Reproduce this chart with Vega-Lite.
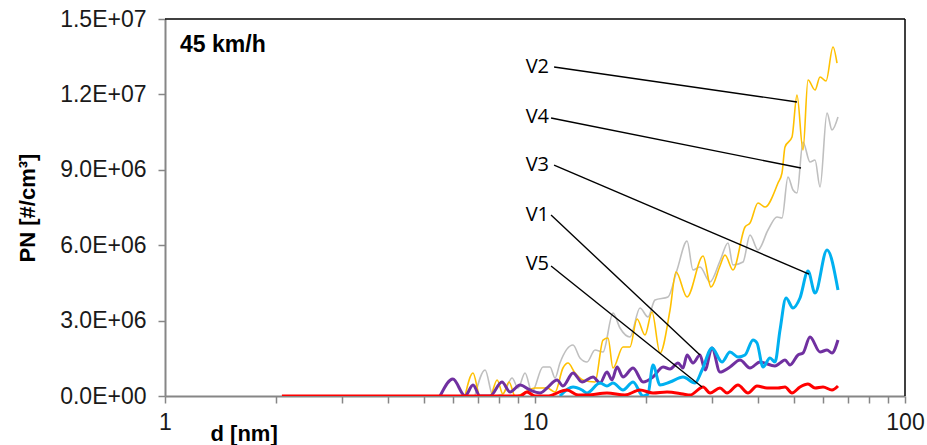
{
"$schema": "https://vega.github.io/schema/vega-lite/v6.json",
"width": 740,
"height": 377,
"autosize": "none",
"padding": {"left": 165, "top": 19, "right": 22, "bottom": 49},
"background": "white",
"config": {"view": {"stroke": null}, "font": "Liberation Sans"},
"datasets": {
"pn": [
{"s":"V4","d":6.88,"v":0},{"s":"V4","d":7.33,"v":1035000},{"s":"V4","d":7.70,"v":0},{"s":"V4","d":8.19,"v":80000},{"s":"V4","d":8.67,"v":716000},{"s":"V4","d":9.00,"v":318000},{"s":"V4","d":9.40,"v":915000},{"s":"V4","d":9.81,"v":159000},{"s":"V4","d":10.51,"v":1154000},{"s":"V4","d":10.98,"v":1154000},{"s":"V4","d":11.33,"v":716000},{"s":"V4","d":11.68,"v":1313000},{"s":"V4","d":12.67,"v":2029000},{"s":"V4","d":13.23,"v":1512000},{"s":"V4","d":13.82,"v":1353000},{"s":"V4","d":14.53,"v":1830000},{"s":"V4","d":15.27,"v":1751000},{"s":"V4","d":16.25,"v":3302000},{"s":"V4","d":16.97,"v":2706000},{"s":"V4","d":18.06,"v":2348000},{"s":"V4","d":19.22,"v":3501000},{"s":"V4","d":20.20,"v":3143000},{"s":"V4","d":21.10,"v":3820000},{"s":"V4","d":22.88,"v":3939000},{"s":"V4","d":24.20,"v":5013000},{"s":"V4","d":25.76,"v":6167000},{"s":"V4","d":26.73,"v":5013000},{"s":"V4","d":27.92,"v":5133000},{"s":"V4","d":29.72,"v":4536000},{"s":"V4","d":31.62,"v":5371000},{"s":"V4","d":33.24,"v":6088000},{"s":"V4","d":34.28,"v":5212000},{"s":"V4","d":36.49,"v":5331000},{"s":"V4","d":38.11,"v":6406000},{"s":"V4","d":40.06,"v":5809000},{"s":"V4","d":42.63,"v":6605000},{"s":"V4","d":45.09,"v":7122000},{"s":"V4","d":46.51,"v":7082000},{"s":"V4","d":48.28,"v":8714000},{"s":"V4","d":49.81,"v":8196000},{"s":"V4","d":51.06,"v":8077000},{"s":"V4","d":53.00,"v":10106000},{"s":"V4","d":55.37,"v":9310000},{"s":"V4","d":57.13,"v":9390000},{"s":"V4","d":58.93,"v":8316000},{"s":"V4","d":61.55,"v":11260000},{"s":"V4","d":63.49,"v":10584000},{"s":"V4","d":65.90,"v":11101000},
{"s":"V2","d":6.47,"v":0},{"s":"V2","d":6.80,"v":915000},{"s":"V2","d":7.10,"v":0},{"s":"V2","d":7.56,"v":0},{"s":"V2","d":7.90,"v":637000},{"s":"V2","d":8.19,"v":80000},{"s":"V2","d":8.51,"v":557000},{"s":"V2","d":8.83,"v":0},{"s":"V2","d":9.22,"v":80000},{"s":"V2","d":10.00,"v":318000},{"s":"V2","d":10.78,"v":318000},{"s":"V2","d":11.33,"v":159000},{"s":"V2","d":11.90,"v":1114000},{"s":"V2","d":12.28,"v":1313000},{"s":"V2","d":12.83,"v":915000},{"s":"V2","d":13.48,"v":637000},{"s":"V2","d":14.53,"v":557000},{"s":"V2","d":15.27,"v":2228000},{"s":"V2","d":15.75,"v":2308000},{"s":"V2","d":16.25,"v":1114000},{"s":"V2","d":17.29,"v":1950000},{"s":"V2","d":18.06,"v":1950000},{"s":"V2","d":18.87,"v":3064000},{"s":"V2","d":19.83,"v":2427000},{"s":"V2","d":20.71,"v":3342000},{"s":"V2","d":21.77,"v":1711000},{"s":"V2","d":23.17,"v":3422000},{"s":"V2","d":24.05,"v":4934000},{"s":"V2","d":25.76,"v":3939000},{"s":"V2","d":28.46,"v":5570000},{"s":"V2","d":29.90,"v":4337000},{"s":"V2","d":31.62,"v":5172000},{"s":"V2","d":32.62,"v":5610000},{"s":"V2","d":34.28,"v":5013000},{"s":"V2","d":36.95,"v":6724000},{"s":"V2","d":38.11,"v":6883000},{"s":"V2","d":40.06,"v":7679000},{"s":"V2","d":41.85,"v":7520000},{"s":"V2","d":45.37,"v":8475000},{"s":"V2","d":46.51,"v":8873000},{"s":"V2","d":47.39,"v":9907000},{"s":"V2","d":49.50,"v":10305000},{"s":"V2","d":51.06,"v":11976000},{"s":"V2","d":53.00,"v":9788000},{"s":"V2","d":54.68,"v":12573000},{"s":"V2","d":57.13,"v":12175000},{"s":"V2","d":58.93,"v":12692000},{"s":"V2","d":61.17,"v":12533000},{"s":"V2","d":63.89,"v":13886000},{"s":"V2","d":65.49,"v":13249000},
{"s":"V1","d":5.54,"v":0},{"s":"V1","d":6.00,"v":676000},{"s":"V1","d":6.47,"v":0},{"s":"V1","d":6.80,"v":438000},{"s":"V1","d":7.10,"v":0},{"s":"V1","d":7.56,"v":0},{"s":"V1","d":8.14,"v":557000},{"s":"V1","d":8.56,"v":159000},{"s":"V1","d":9.11,"v":438000},{"s":"V1","d":9.69,"v":239000},{"s":"V1","d":10.32,"v":119000},{"s":"V1","d":10.78,"v":318000},{"s":"V1","d":11.47,"v":637000},{"s":"V1","d":11.90,"v":398000},{"s":"V1","d":12.67,"v":915000},{"s":"V1","d":13.40,"v":557000},{"s":"V1","d":14.35,"v":756000},{"s":"V1","d":14.99,"v":517000},{"s":"V1","d":15.65,"v":955000},{"s":"V1","d":16.15,"v":637000},{"s":"V1","d":16.66,"v":1154000},{"s":"V1","d":17.29,"v":756000},{"s":"V1","d":18.41,"v":1114000},{"s":"V1","d":19.59,"v":557000},{"s":"V1","d":20.84,"v":756000},{"s":"V1","d":22.18,"v":1154000},{"s":"V1","d":23.17,"v":1074000},{"s":"V1","d":24.35,"v":1313000},{"s":"V1","d":25.12,"v":1114000},{"s":"V1","d":25.76,"v":1631000},{"s":"V1","d":26.73,"v":1313000},{"s":"V1","d":27.92,"v":1631000},{"s":"V1","d":28.81,"v":1035000},{"s":"V1","d":30.09,"v":1910000},{"s":"V1","d":31.62,"v":955000},{"s":"V1","d":33.65,"v":1154000},{"s":"V1","d":35.82,"v":1432000},{"s":"V1","d":38.11,"v":1114000},{"s":"V1","d":40.56,"v":1353000},{"s":"V1","d":44.53,"v":1194000},{"s":"V1","d":45.94,"v":1313000},{"s":"V1","d":47.39,"v":1432000},{"s":"V1","d":48.89,"v":1233000},{"s":"V1","d":51.38,"v":1631000},{"s":"V1","d":53.00,"v":1711000},{"s":"V1","d":55.37,"v":2348000},{"s":"V1","d":58.93,"v":1751000},{"s":"V1","d":61.55,"v":1830000},{"s":"V1","d":63.49,"v":1711000},{"s":"V1","d":65.90,"v":2228000},
{"s":"V3","d":11.68,"v":0},{"s":"V3","d":12.67,"v":358000},{"s":"V3","d":13.40,"v":239000},{"s":"V3","d":13.82,"v":119000},{"s":"V3","d":14.99,"v":517000},{"s":"V3","d":15.65,"v":398000},{"s":"V3","d":16.25,"v":517000},{"s":"V3","d":17.29,"v":239000},{"s":"V3","d":18.41,"v":557000},{"s":"V3","d":19.59,"v":0},{"s":"V3","d":20.20,"v":80000},{"s":"V3","d":20.84,"v":1233000},{"s":"V3","d":21.77,"v":438000},{"s":"V3","d":23.17,"v":557000},{"s":"V3","d":25.12,"v":756000},{"s":"V3","d":27.07,"v":517000},{"s":"V3","d":28.28,"v":1035000},{"s":"V3","d":30.09,"v":1910000},{"s":"V3","d":32.02,"v":1353000},{"s":"V3","d":33.65,"v":1751000},{"s":"V3","d":35.37,"v":1552000},{"s":"V3","d":36.95,"v":1631000},{"s":"V3","d":38.83,"v":2228000},{"s":"V3","d":39.81,"v":2109000},{"s":"V3","d":41.33,"v":1154000},{"s":"V3","d":43.16,"v":1512000},{"s":"V3","d":44.53,"v":1353000},{"s":"V3","d":45.94,"v":2626000},{"s":"V3","d":47.69,"v":3899000},{"s":"V3","d":49.81,"v":3501000},{"s":"V3","d":52.02,"v":3899000},{"s":"V3","d":54.68,"v":4973000},{"s":"V3","d":57.13,"v":4098000},{"s":"V3","d":61.55,"v":5809000},{"s":"V3","d":65.90,"v":4217000},
{"s":"V5","d":2.07,"v":0},{"s":"V5","d":9.11,"v":0},{"s":"V5","d":9.51,"v":159000},{"s":"V5","d":10.00,"v":0},{"s":"V5","d":10.78,"v":0},{"s":"V5","d":12.20,"v":239000},{"s":"V5","d":13.07,"v":40000},{"s":"V5","d":13.82,"v":40000},{"s":"V5","d":15.65,"v":119000},{"s":"V5","d":17.50,"v":40000},{"s":"V5","d":19.22,"v":239000},{"s":"V5","d":20.84,"v":119000},{"s":"V5","d":22.74,"v":159000},{"s":"V5","d":25.12,"v":80000},{"s":"V5","d":26.24,"v":40000},{"s":"V5","d":28.46,"v":358000},{"s":"V5","d":29.72,"v":119000},{"s":"V5","d":31.62,"v":318000},{"s":"V5","d":33.03,"v":119000},{"s":"V5","d":35.37,"v":438000},{"s":"V5","d":37.64,"v":119000},{"s":"V5","d":39.81,"v":398000},{"s":"V5","d":42.36,"v":318000},{"s":"V5","d":45.37,"v":318000},{"s":"V5","d":47.39,"v":358000},{"s":"V5","d":49.50,"v":119000},{"s":"V5","d":52.02,"v":358000},{"s":"V5","d":54.68,"v":477000},{"s":"V5","d":57.13,"v":318000},{"s":"V5","d":60.04,"v":358000},{"s":"V5","d":63.49,"v":239000},{"s":"V5","d":65.90,"v":398000}
],
"frame": [
{"d1":1,"v1":15000000,"d2":100,"v2":15000000},
{"d1":100,"v1":0,"d2":100,"v2":15000000}
],
"leaders": [
{"s":"V2","d1":11.26,"v1":13090000,"d2":51.06,"v2":11700000},
{"s":"V4","d1":11.05,"v1":11060000,"d2":52.35,"v2":9070000},
{"s":"V3","d1":11.26,"v1":9190000,"d2":55.03,"v2":4850000},
{"s":"V1","d1":11.05,"v1":7200000,"d2":27.92,"v2":1630000},
{"s":"V5","d1":11.05,"v1":5170000,"d2":28.28,"v2":358000}
],
"labels": [
{"t":"V2","d":10.91,"v":13100000},
{"t":"V4","d":10.91,"v":11100000},
{"t":"V3","d":10.91,"v":9190000},
{"t":"V1","d":10.91,"v":7200000},
{"t":"V5","d":10.91,"v":5250000}
],
"speed": [
{"t":"45 km/h","d":1.098,"v":13970000}
]
},
"layer": [
{
"data": {"name": "pn"},
"transform": [{"filter": "datum.s == 'V4' || datum.s == 'V2'"}],
"mark": {"type": "line", "interpolate": "monotone", "clip": true, "strokeWidth": 1.6},
"encoding": {
"x": {"field": "d", "type": "quantitative", "scale": {"type": "log", "domain": [1, 100]},
"axis": {"values": [1,2,3,4,5,6,7,8,9,10,20,30,40,50,60,70,80,90,100],
"labelExpr": "datum.value==1?'1':datum.value==10?'10':datum.value==100?'100':''",
"grid": false, "domainColor": "#868686", "domainWidth": 2, "tickColor": "#868686", "tickWidth": 1.5, "tickSize": 7,
"labelFontSize": 23, "labelColor": "#1a1a1a", "labelPadding": 8, "labelFont": "Liberation Sans", "labelOverlap": false, "labelFlush": false,
"title": "d [nm]", "titleFont": "Liberation Sans", "titleFontSize": 22, "titleFontWeight": "bold", "titleColor": "#000000",
"titleAnchor": "start", "titleAlign": "left", "titleX": 45, "titleY": 37, "titleBaseline": "middle"}},
"y": {"field": "v", "type": "quantitative", "scale": {"domain": [0, 15000000], "nice": false},
"axis": {"values": [0,3000000,6000000,9000000,12000000,15000000],
"labelExpr": "datum.value==0?'0.0E+00':datum.value==3000000?'3.0E+06':datum.value==6000000?'6.0E+06':datum.value==9000000?'9.0E+06':datum.value==12000000?'1.2E+07':'1.5E+07'",
"grid": false, "domainColor": "#868686", "domainWidth": 2, "tickColor": "#868686", "tickWidth": 1.5, "tickSize": 7,
"labelFontSize": 23, "labelColor": "#1a1a1a", "labelPadding": 12, "labelFont": "Liberation Sans", "labelOverlap": false,
"title": "PN [#/cm³]", "titleFont": "Liberation Sans", "titleFontSize": 22, "titleFontWeight": "bold", "titleColor": "#000000", "titlePadding": 20}},
"color": {"field": "s", "type": "nominal", "scale": {"domain": ["V4","V2","V1","V3","V5"], "range": ["#BFBFBF","#FFC000","#7030A0","#00B0F0","#FF0000"]}, "legend": null}
}
},
{
"data": {"name": "pn"},
"transform": [{"filter": "datum.s == 'V1'"}],
"mark": {"type": "line", "interpolate": "monotone", "clip": true, "strokeWidth": 3},
"encoding": {
"x": {"field": "d", "type": "quantitative"},
"y": {"field": "v", "type": "quantitative"},
"color": {"field": "s", "type": "nominal", "legend": null}
}
},
{
"data": {"name": "pn"},
"transform": [{"filter": "datum.s == 'V3'"}],
"mark": {"type": "line", "interpolate": "monotone", "clip": true, "strokeWidth": 3},
"encoding": {
"x": {"field": "d", "type": "quantitative"},
"y": {"field": "v", "type": "quantitative"},
"color": {"field": "s", "type": "nominal", "legend": null}
}
},
{
"data": {"name": "pn"},
"transform": [{"filter": "datum.s == 'V5'"}],
"mark": {"type": "line", "interpolate": "monotone", "clip": true, "strokeWidth": 3},
"encoding": {
"x": {"field": "d", "type": "quantitative"},
"y": {"field": "v", "type": "quantitative"},
"color": {"field": "s", "type": "nominal", "legend": null}
}
},
{
"data": {"name": "frame"},
"mark": {"type": "rule", "color": "#000000", "strokeWidth": 1.5},
"encoding": {
"x": {"field": "d1", "type": "quantitative"},
"y": {"field": "v1", "type": "quantitative"},
"x2": {"field": "d2"},
"y2": {"field": "v2"}
}
},
{
"data": {"name": "leaders"},
"mark": {"type": "rule", "color": "#000000", "strokeWidth": 1.4},
"encoding": {
"x": {"field": "d1", "type": "quantitative"},
"y": {"field": "v1", "type": "quantitative"},
"x2": {"field": "d2"},
"y2": {"field": "v2"}
}
},
{
"data": {"name": "labels"},
"mark": {"type": "text", "align": "right", "baseline": "middle", "font": "Open Sans", "fontSize": 20, "color": "#000000"},
"encoding": {
"x": {"field": "d", "type": "quantitative"},
"y": {"field": "v", "type": "quantitative"},
"text": {"field": "t"}
}
},
{
"data": {"name": "speed"},
"mark": {"type": "text", "align": "left", "baseline": "middle", "font": "Liberation Sans", "fontSize": 23, "fontWeight": "bold", "color": "#000000"},
"encoding": {
"x": {"field": "d", "type": "quantitative"},
"y": {"field": "v", "type": "quantitative"},
"text": {"field": "t"}
}
}
]
}
